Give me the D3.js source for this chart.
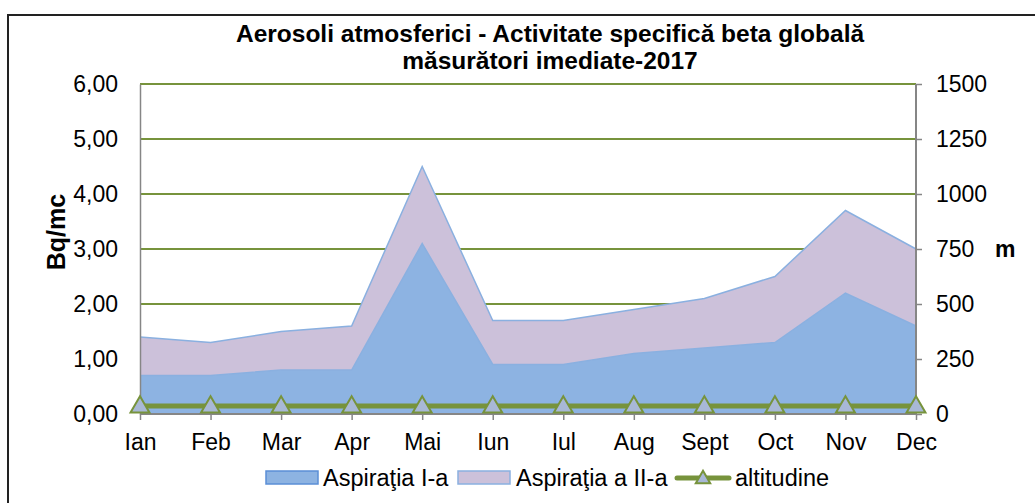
<!DOCTYPE html>
<html>
<head>
<meta charset="utf-8">
<script src="https://cdn.jsdelivr.net/npm/d3@7"></script>
<style>
  body { margin: 0; background: #fff; }
  svg { font-family: "Liberation Sans", Arial, sans-serif; }
</style>
</head>
<body>
<div id="chart"></div>
<script>
// date
const luni = ['Ian', 'Feb', 'Mar', 'Apr', 'Mai', 'Iun', 'Iul', 'Aug', 'Sept', 'Oct', 'Nov', 'Dec'];
const aspiratia1 = [0.7, 0.7, 0.8, 0.8, 3.1, 0.9, 0.9, 1.1, 1.2, 1.3, 2.2, 1.6];
const aspiratia2 = [0.7, 0.6, 0.7, 0.8, 1.4, 0.8, 0.8, 0.8, 0.9, 1.2, 1.5, 1.4];
const altitudine = [36, 36, 36, 36, 36, 36, 36, 36, 36, 36, 36, 36];
const ticksStanga = [0, 1, 2, 3, 4, 5, 6];
const ticksDreapta = [0, 250, 500, 750, 1000, 1250, 1500];

const W = 1035, H = 503;
const plot = { left: 140, right: 916, top: 84, bottom: 414 };
const fs = '23px';

const svg = d3.select('#chart').append('svg')
  .attr('width', W)
  .attr('height', H);

// chenarul graficului
svg.append('rect')
  .attr('x', 8).attr('y', 15)
  .attr('width', W + 20).attr('height', H + 20)
  .attr('fill', 'none')
  .attr('stroke', '#222')
  .attr('stroke-width', 2);

const x = d3.scalePoint().domain(luni).range([plot.left, plot.right]);
const yL = d3.scaleLinear().domain([0, 6]).range([plot.bottom, plot.top]);
const yR = d3.scaleLinear().domain([0, 1500]).range([plot.bottom, plot.top]);

const rows = luni.map((l, i) => ({ luna: l, a1: aspiratia1[i], a2: aspiratia2[i] }));
const stack = d3.stack().keys(['a1', 'a2'])(rows);

// grid
svg.append('g')
  .selectAll('line')
  .data(ticksStanga.filter(d => d > 0))
  .join('line')
  .attr('x1', plot.left).attr('x2', plot.right)
  .attr('y1', d => yL(d)).attr('y2', d => yL(d))
  .attr('stroke', '#77933C')
  .attr('stroke-width', 2);

// arii stivuite
const culori = { a1: '#8DB3E2', a2: '#CCC1DA' };
const area = d3.area()
  .x(d => x(d.data.luna))
  .y0(d => yL(d[0]))
  .y1(d => yL(d[1]));
const margine = d3.line()
  .x(d => x(d.data.luna))
  .y(d => yL(d[1]));

svg.append('g').selectAll('path.arie')
  .data(stack)
  .join('path')
  .attr('class', 'arie')
  .attr('d', area)
  .attr('fill', d => culori[d.key]);

svg.append('g').selectAll('path.margine')
  .data(stack)
  .join('path')
  .attr('class', 'margine')
  .attr('d', margine)
  .attr('fill', 'none')
  .attr('stroke', '#8AB0E0')
  .attr('stroke-width', 1.5);

// axa X
const xAxisG = svg.append('g')
  .attr('transform', `translate(0,${plot.bottom})`)
  .call(d3.axisBottom(x).tickSize(6).tickPadding(14));
xAxisG.select('.domain').attr('stroke', '#868686').attr('stroke-width', 2)
  .attr('d', `M${plot.left},0H${plot.right}`);
xAxisG.selectAll('.tick line').attr('stroke', '#868686').attr('stroke-width', 1.5);
xAxisG.selectAll('text').attr('font-size', fs).attr('fill', '#000');

// axa stanga
const yAxisL = svg.append('g')
  .attr('transform', `translate(${plot.left},0)`)
  .call(d3.axisLeft(yL).tickValues(ticksStanga).tickSize(0).tickPadding(22)
    .tickFormat(d => d3.format('.2f')(d).replace('.', ',')));
yAxisL.select('.domain').attr('stroke', '#868686').attr('stroke-width', 1.5);
yAxisL.selectAll('text').attr('font-size', fs).attr('fill', '#000');

// axa dreapta
const yAxisR = svg.append('g')
  .attr('transform', `translate(${plot.right},0)`)
  .call(d3.axisRight(yR).tickValues(ticksDreapta).tickSize(6).tickPadding(14)
    .tickFormat(d3.format('d')));
yAxisR.select('.domain').attr('stroke', '#868686').attr('stroke-width', 2)
  .attr('d', `M0,${plot.top}V${plot.bottom}`);
yAxisR.selectAll('.tick line').attr('stroke', '#868686').attr('stroke-width', 1.5);
yAxisR.selectAll('text').attr('font-size', fs).attr('fill', '#000');

// altitudine
const linieAlt = d3.line()
  .x((d, i) => x(luni[i]))
  .y(d => yR(d));
svg.append('path')
  .datum(altitudine)
  .attr('d', linieAlt)
  .attr('fill', 'none')
  .attr('stroke', '#77933C')
  .attr('stroke-width', 5);

const triunghi = d3.symbol().type(d3.symbolTriangle).size(155);
svg.append('g').selectAll('path')
  .data(altitudine)
  .join('path')
  .attr('d', triunghi)
  .attr('transform', (d, i) => `translate(${x(luni[i])},${yR(d) + 1})`)
  .attr('fill', '#A8B8D6')
  .attr('stroke', '#77933C')
  .attr('stroke-width', 2);

// titlu
const titlu = svg.append('text')
  .attr('text-anchor', 'middle')
  .attr('font-size', '24.5px')
  .attr('font-weight', 'bold');
titlu.append('tspan').attr('x', 550).attr('y', 42)
  .text('Aerosoli atmosferici - Activitate specifică beta globală');
titlu.append('tspan').attr('x', 550).attr('y', 69)
  .text('măsurători imediate-2017');

// etichete axe
svg.append('text')
  .attr('transform', 'translate(65,232) rotate(-90)')
  .attr('text-anchor', 'middle')
  .attr('font-size', '25px')
  .attr('font-weight', 'bold')
  .text('Bq/mc');

svg.append('text')
  .attr('x', 995).attr('y', 257)
  .attr('font-size', fs)
  .attr('font-weight', 'bold')
  .text('m');

// legenda
const leg = svg.append('g').attr('font-size', '23.5px');
leg.append('rect').attr('x', 266).attr('y', 471).attr('width', 52).attr('height', 13)
  .attr('fill', culori.a1).attr('stroke', '#5B8FD6').attr('stroke-width', 1.5);
leg.append('text').attr('x', 323).attr('y', 486).text('Aspiraţia I-a');
leg.append('rect').attr('x', 458).attr('y', 471).attr('width', 52).attr('height', 13)
  .attr('fill', culori.a2).attr('stroke', '#8AB0E0').attr('stroke-width', 1.5);
leg.append('text').attr('x', 516).attr('y', 486).text('Aspiraţia a II-a');
leg.append('line').attr('x1', 677).attr('x2', 729).attr('y1', 478).attr('y2', 478)
  .attr('stroke', '#77933C').attr('stroke-width', 5).attr('stroke-linecap', 'round');
leg.append('path').attr('d', d3.symbol().type(d3.symbolTriangle).size(90))
  .attr('transform', 'translate(703,479)')
  .attr('fill', '#A8B8D6').attr('stroke', '#77933C').attr('stroke-width', 2);
leg.append('text').attr('x', 735).attr('y', 486).text('altitudine');
</script>
</body>
</html>
